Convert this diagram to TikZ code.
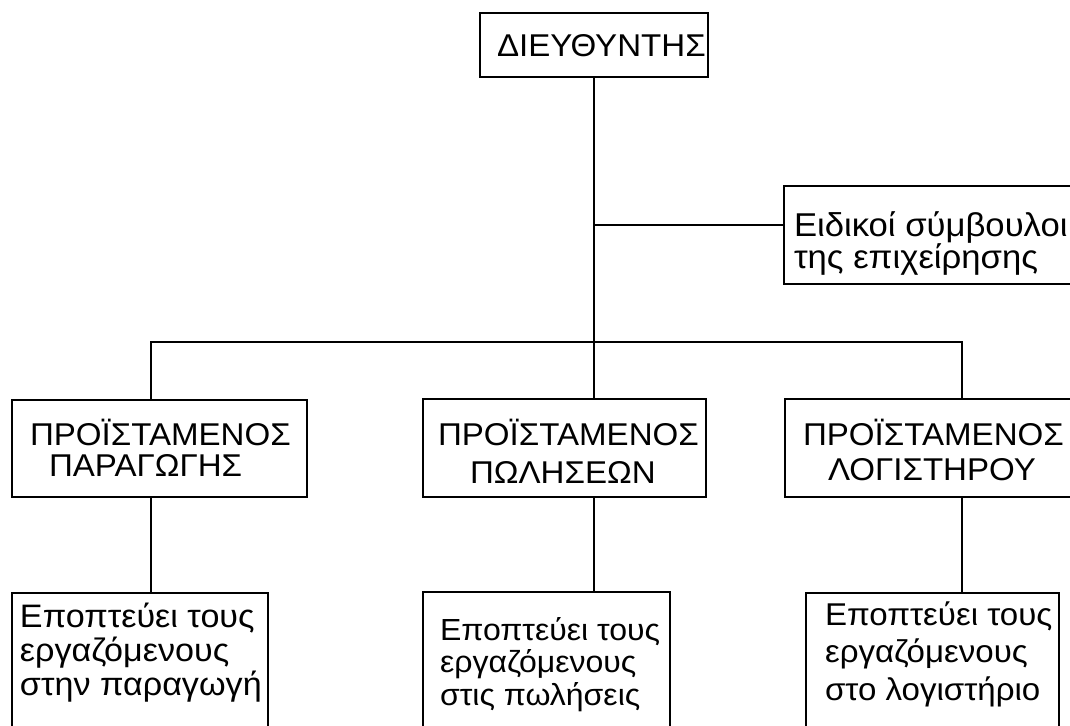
\documentclass[tikz,border=0pt]{standalone}
\usepackage{fontspec}
\setmainfont[FakeStretch=1.05]{Liberation Sans}
\newcommand\btxt[5]{\parbox[c][#2][t]{#1}{\raggedright\leftskip=#3\relax\hyphenpenalty=10000\relax\rule{0pt}{#4}#5\par}}
\begin{document}
\begin{tikzpicture}[x=1pt,y=-1pt,
  line width=1.5pt,
  bx/.style={draw, line width=1.5pt, anchor=north west, inner sep=0pt, outer sep=0pt},
  capsf/.style={font=\fontsize{31.5}{31}\selectfont},
  lowf/.style={font=\fontsize{#1}{34}\selectfont}]
\useasboundingbox (0,0) rectangle (1070,725);
\clip (0,0) rectangle (1070,725);
% boxes
\node[bx,capsf] (dir) at (480,13) {\btxt{228pt}{64pt}{17pt}{44pt}{ΔΙΕΥΘΥΝΤΗΣ}};
\node[bx,font=\fontsize{33}{32}\selectfont] (cons) at (784,186) {\btxt{300pt}{98pt}{10pt}{50pt}{Ειδικοί~σύμβουλοι\\της~επιχείρησης}};
\node[bx,capsf] (L1) at (12,400) {\btxt{295pt}{97pt}{18pt}{45pt}{ΠΡΟΪΣΤΑΜΕΝΟΣ\\\hspace*{19pt}ΠΑΡΑΓΩΓΗΣ}};
\node[bx,capsf] (M1) at (423,399) {\btxt{283pt}{98pt}{15pt}{46pt}{ΠΡΟΪΣΤΑΜΕΝΟΣ\\[7pt]\hspace*{32pt}ΠΩΛΗΣΕΩΝ}};
\node[bx,capsf] (R1) at (785,399) {\btxt{300pt}{98pt}{18pt}{46pt}{ΠΡΟΪΣΤΑΜΕΝΟΣ\\[4pt]\hspace*{25pt}ΛΟΓΙΣΤΗΡΟΥ}};
\node[bx,lowf=32.5] (L2) at (12,593) {\btxt{256pt}{170pt}{8pt}{34pt}{Εποπτεύει~τους\\εργαζόμενους\\στην~παραγωγή}};
\node[bx,lowf=30.5] (M2) at (423,592) {\btxt{247pt}{170pt}{17pt}{48pt}{Εποπτεύει~τους\\[-1.5pt]εργαζόμενους\\[-1.5pt]στις~πωλήσεις}};
\node[bx,lowf=31.5] (R2) at (806,593) {\btxt{253pt}{170pt}{19pt}{32pt}{Εποπτεύει~τους\\[3.5pt]εργαζόμενους\\[3.5pt]στο~λογιστήριο}};
% connectors
\coordinate (bL) at (151,342);
\coordinate (bR) at (962,342);
\coordinate (jn) at (594,225);
\draw (dir.south) -- (dir.south |- bL);
\draw (jn) -- (jn -| cons.west);
\draw (bL |- L1.north) -- (bL) -- (bR) -- (bR |- R1.north);
\draw (dir.south |- bL) -- (dir.south |- M1.north);
\draw (L1.south -| bL) -- (L2.north -| bL);
\draw (M1.south -| dir.south) -- (M2.north -| dir.south);
\draw (R1.south -| bR) -- (R2.north -| bR);
\end{tikzpicture}
\end{document}
